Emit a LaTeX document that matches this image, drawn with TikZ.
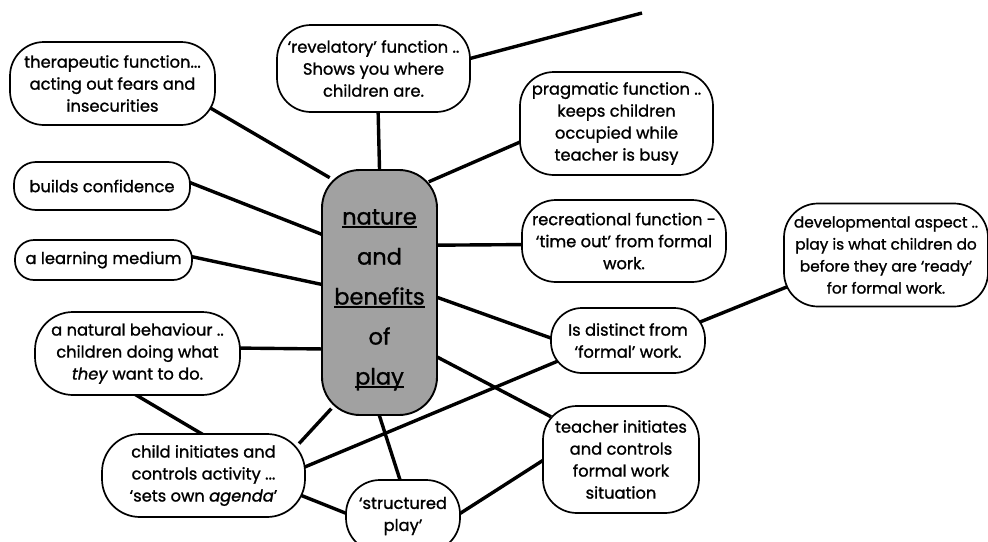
\documentclass[tikz,border=0pt]{standalone}
\usepackage{fontspec}
\setmainfont{Poppins}[FakeBold=1.2]
\usetikzlibrary{backgrounds}
\newcommand\ulw[1]{\setbox0\hbox{#1}\rlap{\rule[-3pt]{\wd0}{1.3pt}}#1}
\begin{document}
\begin{tikzpicture}[x=1pt,y=-1pt,
  box/.style={draw,line width=1.7pt,rounded corners=34pt,fill=white,align=center,inner sep=0pt,
    font=\fontsize{16.3}{22}\selectfont},
  hub/.style={draw,line width=1.9pt,rounded corners=38pt,fill=black!37,align=center,inner sep=0pt,
    font=\fontsize{22.5}{40}\selectfont},
  link/.style={line width=3.4pt,shorten <=-10pt,shorten >=-10pt}]
\useasboundingbox (0,0) rectangle (988,541);
\clip (0,0) rectangle (988,541);
\node[hub,minimum width=115pt,minimum height=245pt] (ctr) at (379.5,292.5)
  {\rule{0pt}{30pt}\ulw{nature}\\and\\\ulw{benefits}\\of\\\ulw{play}};
\node[box,minimum width=205pt,minimum height=83pt] (ther) at (112.5,83.5)
  {therapeutic function...\\acting out fears and\\insecurities};
\node[box,minimum width=193pt,minimum height=87pt] (rev) at (373.5,68.5)
  {‘revelatory’ function ..\\Shows you where\\children are.};
\node[box,minimum width=193pt,minimum height=103pt] (prag) at (616.5,123.5)
  {pragmatic function ..\\keeps children\\occupied while\\teacher is busy};
\node[box,minimum width=176pt,minimum height=48pt,rounded corners=22pt] (build) at (102,186)
  {builds confidence};
\node[box,minimum width=204pt,minimum height=82pt] (recr) at (624,241)
  {recreational function -\\‘time out’ from formal\\work.};
\node[box,minimum width=204pt,minimum height=103pt,font=\fontsize{15.3}{22}\selectfont] (dev) at (886,255)
  {developmental aspect ..\\play is what children do\\before they are ‘ready’\\for formal work.};
\node[box,minimum width=177pt,minimum height=40pt,rounded corners=19pt] (learn) at (103.5,260)
  {a learning medium};
\node[box,minimum width=154pt,minimum height=65pt,rounded corners=31pt] (dist) at (628,340.5)
  {Is distinct from\\‘formal’ work.};
\node[box,minimum width=205pt,minimum height=83pt,rounded corners=38pt] (nat) at (137.5,353.5)
  {a natural behaviour ..\\children doing what\\\textit{they} want to do.};
\node[box,minimum width=156pt,minimum height=107pt] (teach) at (621,459.5)
  {teacher initiates\\and controls\\formal work\\situation};
\node[box,minimum width=203pt,minimum height=83pt,rounded corners=38pt] (child) at (203.5,475.5)
  {child initiates and\\controls activity ...\\‘sets own \textit{agenda}’};
\node[box,minimum width=114pt,minimum height=72pt,rounded corners=34pt] (struct) at (403,516)
  {‘structured\\play’};
\coordinate (free) at (642,13);
\begin{scope}[on background layer]
\draw[link] (ther.-15.5) -- (ctr.116);
\draw[link] (rev.-84) -- (ctr.90.7);
\draw[link,shorten >=0pt] (rev.6.8) -- (free);
\draw[link] (prag.-169.7) -- (ctr.63.7);
\draw[link] (build.2) -- (ctr.135);
\draw[link] (recr.182.2) -- (ctr.39.6);
\draw[link] (learn.2) -- (ctr.172.6);
\draw[link] (nat.3) -- (ctr.-136);
\draw[link] (ctr.-5.5) -- (dist.178);
\draw[link] (ctr.-48.7) -- (teach.149);
\draw[link] (dist.-163.4) -- (child.5.8);
\draw[link] (ctr.-114.3) -- (child.21.6);
\draw[link] (ctr.-90) -- (struct.95);
\draw[link] (nat.-90) -- (child.94.8);
\draw[link] (child.-12.7) -- (struct.177);
\draw[link] (struct.3) -- (teach.181);
\draw[link] (dist.15.9) -- (dev.-162);
\end{scope}
\end{tikzpicture}
\end{document}
